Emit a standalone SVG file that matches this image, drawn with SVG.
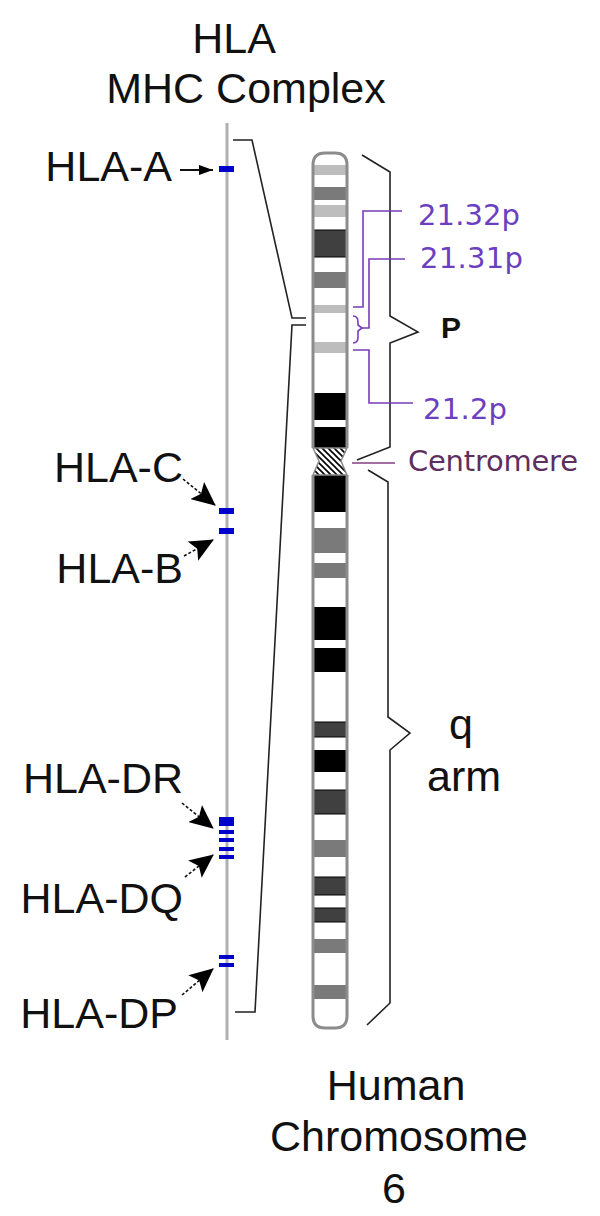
<svg xmlns="http://www.w3.org/2000/svg" width="600" height="1216" viewBox="0 0 600 1216">
<style>
.lbl{font-family:"Liberation Sans",Arial,sans-serif;font-size:43px;fill:#111}
.pl{font-family:"DejaVu Sans",sans-serif;font-size:29px;fill:#6a40c0}
.cen{font-family:"DejaVu Sans",sans-serif;font-size:29px;fill:#5e2e5e}
.brk{fill:none;stroke:#222;stroke-width:1.6}
.pur{fill:none;stroke:#7a3cb8;stroke-width:1.6}
.arr{fill:none;stroke:#111;stroke-width:1.6;stroke-dasharray:3 2}
.lg{fill:#bdbdbd}.mg{fill:#7a7a7a}.dg{fill:#404040;stroke:#000;stroke-width:1}.bk{fill:#000}
.gene{fill:#0000cc}
.outl{fill:none;stroke:#8c8c8c;stroke-width:3}
</style>
<defs>
<marker id="head" viewBox="0 0 24 22" refX="23" refY="11" markerWidth="24" markerHeight="22" orient="auto" markerUnits="userSpaceOnUse">
<path d="M0,0 L24,11 L0,22 L5,11 Z" fill="#000"/>
</marker>
<marker id="headS" viewBox="0 0 14 10" refX="14" refY="5" markerWidth="14" markerHeight="10" orient="auto" markerUnits="userSpaceOnUse">
<path d="M0,0 L14,5 L0,10 Z" fill="#000"/>
</marker>
<pattern id="hatch" patternUnits="userSpaceOnUse" width="6" height="6">
<path d="M0,0 L6,6 M-1,5 L1,7 M5,-1 L7,1" stroke="#000" stroke-width="1.6"/>
</pattern>
<clipPath id="pclip"><path d="M313,448 V165 Q313,153 325,153 H335 Q347,153 347,165 V448 Z"/></clipPath>
<clipPath id="qclip"><path d="M313,475 V1016 Q313,1028 325,1028 H335 Q347,1028 347,1016 V475 Z"/></clipPath>
</defs>
<rect width="600" height="1216" fill="#fff"/>

<g id="title">
<text class="lbl" x="234" y="53" text-anchor="middle">HLA</text>
<text class="lbl" x="246" y="103" text-anchor="middle">MHC Complex</text>
</g>

<g id="mhc-line">
<line x1="227" y1="123" x2="227" y2="1040" stroke="#b0b0b0" stroke-width="3"/>
</g>

<g id="HLA-A">
<rect class="gene" x="219" y="166" width="15" height="6"/>
<text class="lbl" x="172" y="181" text-anchor="end">HLA-A</text>
</g>
<g id="HLA-C">
<rect class="gene" x="219" y="508" width="15" height="6"/>
<text class="lbl" x="183" y="482" text-anchor="end">HLA-C</text>
</g>
<g id="HLA-B">
<rect class="gene" x="219" y="528" width="15" height="6"/>
<text class="lbl" x="183" y="583" text-anchor="end">HLA-B</text>
</g>
<g id="HLA-DR">
<rect class="gene" x="219" y="817" width="15" height="9"/>
<rect class="gene" x="219" y="830" width="15" height="4"/>
<text class="lbl" x="183" y="793" text-anchor="end">HLA-DR</text>
</g>
<g id="HLA-DQ">
<rect class="gene" x="219" y="838" width="15" height="4"/>
<rect class="gene" x="219" y="847" width="15" height="4"/>
<rect class="gene" x="219" y="855" width="15" height="4"/>
<text class="lbl" x="183" y="913" text-anchor="end">HLA-DQ</text>
</g>
<g id="HLA-DP">
<rect class="gene" x="219" y="955" width="15" height="4"/>
<rect class="gene" x="219" y="963" width="15" height="4"/>
<text class="lbl" x="178" y="1028" text-anchor="end">HLA-DP</text>
</g>

<g id="chromosome">
<path d="M313,448 V165 Q313,153 325,153 H335 Q347,153 347,165 V448 Z" fill="#fff"/>
<path d="M313,475 V1016 Q313,1028 325,1028 H335 Q347,1028 347,1016 V475 Z" fill="#fff"/>
<g clip-path="url(#pclip)">
<rect class="lg" x="313" y="165" width="34" height="10"/>
<rect class="mg" x="313" y="187" width="34" height="13"/>
<rect class="lg" x="313" y="205" width="34" height="12"/>
<rect class="dg" x="313" y="230" width="34" height="27"/>
<rect class="mg" x="313" y="272" width="34" height="16"/>
<rect class="lg" x="313" y="305" width="34" height="8"/>
<rect class="lg" x="313" y="342" width="34" height="11"/>
<rect class="bk" x="313" y="393" width="34" height="27"/>
<rect class="bk" x="313" y="427" width="34" height="21"/>
</g>
<g clip-path="url(#qclip)">
<rect class="bk" x="313" y="475" width="34" height="37"/>
<rect class="mg" x="313" y="528" width="34" height="25"/>
<rect class="mg" x="313" y="563" width="34" height="15"/>
<rect class="bk" x="313" y="607" width="34" height="33"/>
<rect class="bk" x="313" y="648" width="34" height="24"/>
<rect class="dg" x="313" y="722" width="34" height="15"/>
<rect class="bk" x="313" y="750" width="34" height="22"/>
<rect class="dg" x="313" y="790" width="34" height="24"/>
<rect class="mg" x="313" y="840" width="34" height="17"/>
<rect class="dg" x="313" y="877" width="34" height="18"/>
<rect class="dg" x="313" y="908" width="34" height="14"/>
<rect class="mg" x="313" y="939" width="34" height="14"/>
<rect class="mg" x="313" y="985" width="34" height="14"/>
</g>
<path d="M313,448 H347 L341,461 L347,475 H313 L319,461 Z" fill="#fff"/>
<path d="M313,448 H347 L341,461 L347,475 H313 L319,461 Z" fill="url(#hatch)" stroke="#8c8c8c" stroke-width="1.5"/>
<path class="outl" d="M313,448 V165 Q313,153 325,153 H335 Q347,153 347,165 V448"/>
<path class="outl" d="M313,475 V1016 Q313,1028 325,1028 H335 Q347,1028 347,1016 V475"/>
</g>

<g id="band-labels">
<text class="pl" x="418" y="225" textLength="102">21.32p</text>
<text class="pl" x="420" y="268" textLength="103">21.31p</text>
<text class="pl" x="423" y="419" textLength="84">21.2p</text>
<text class="cen" x="408" y="471" textLength="170">Centromere</text>
</g>

<g id="arm-labels">
<text x="441" y="338" font-family="Liberation Sans,Arial,sans-serif" font-size="30" font-weight="bold" fill="#111">P</text>
<text class="lbl" x="449" y="739">q</text>
<text class="lbl" x="427" y="791">arm</text>
</g>

<g id="caption">
<text class="lbl" x="396" y="1100" text-anchor="middle">Human</text>
<text class="lbl" x="399" y="1151" text-anchor="middle">Chromosome</text>
<text class="lbl" x="394" y="1203" text-anchor="middle">6</text>
</g>

<g id="connectors">
<line x1="180" y1="170" x2="213" y2="170" stroke="#111" stroke-width="1.8" marker-end="url(#headS)"/>
<line class="arr" x1="183" y1="479" x2="215" y2="505" marker-end="url(#head)"/>
<line class="arr" x1="184" y1="556" x2="213" y2="540" marker-end="url(#head)"/>
<line class="arr" x1="182" y1="803" x2="213" y2="828" marker-end="url(#head)"/>
<line class="arr" x1="185" y1="877" x2="213" y2="855" marker-end="url(#head)"/>
<line class="arr" x1="182" y1="995" x2="213" y2="969" marker-end="url(#head)"/>
<path class="brk" d="M233,140 H252 L292,318 H306 M306,325 H292 L255,1012 H235"/>
<path class="brk" d="M362,155 L390,172 V316 L418,332 L390,343 V447 L357,460"/>
<path class="brk" d="M368,470 L388,482 V717 L410,733 L390,750 V1003 L367,1025"/>
<path class="pur" d="M402,211 H363 V307 H353"/>
<path class="pur" d="M405,259 H369 V328 H362"/>
<path class="pur" d="M353,316 Q358,316 358,322 V325 L362,328 L358,331 V337 Q358,343 353,343"/>
<path class="pur" d="M413,403 H369 V350 H353"/>
<line x1="352" y1="463" x2="395" y2="463" stroke="#804080" stroke-width="1.6"/>
</g>
</svg>
